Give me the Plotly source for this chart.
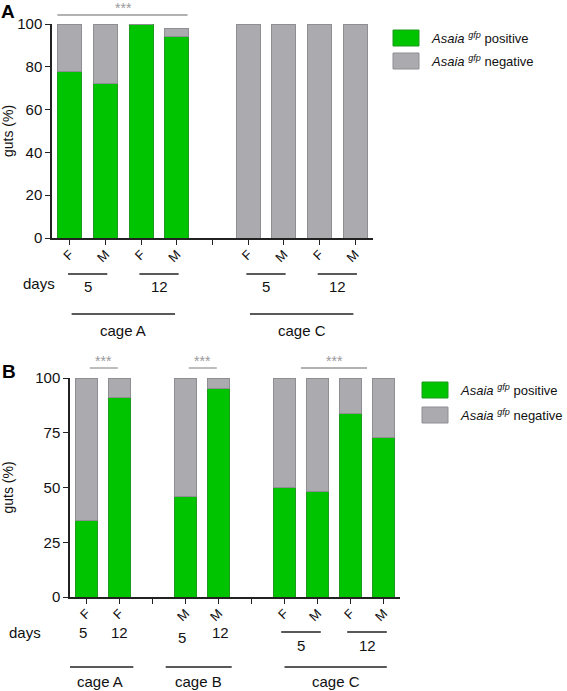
import plotly.graph_objects as go

# ---------------- data ----------------
# Panel A
a_x = [0, 1, 2, 3, 5, 6, 7, 8]
a_pos = [78, 72, 100, 94, 0, 0, 0, 0]
a_neg = [22, 28, 0, 4, 100, 100, 100, 100]
a_ticks = [0, 1, 2, 3, 4, 5, 6, 7, 8]
a_ticktext = ["F", "M", "F", "M", "", "F", "M", "F", "M"]
a_days = ["5", "12", "5", "12"]
a_cages = ["cage A", "cage C"]

# Panel B
b_x = [0, 1, 3, 4, 6, 7, 8, 9]
b_pos = [35, 91, 46, 95, 50, 48, 84, 73]
b_neg = [65, 9, 54, 5, 50, 52, 16, 27]
b_ticks = [0, 1, 2, 3, 4, 5, 6, 7, 8, 9]
b_ticktext = ["F", "F", "", "M", "M", "", "F", "M", "F", "M"]
b_cages = ["cage A", "cage B", "cage C"]

GREEN = "#00C400"
GREEN_L = "#1f9a1f"
GRAY = "#ABABAF"
GRAY_L = "#8f8f93"
AX = "#222222"
FONT = "Liberation Sans, Arial, sans-serif"

W, H = 567, 691
def px(x):
    return x / W
def py(y):
    return 1 - y / H

fig = go.Figure()
bw = 0.68
fig.add_trace(go.Bar(x=a_x, y=a_pos, width=bw, marker=dict(color=GREEN, line=dict(color=GREEN_L, width=1)),
                     xaxis="x", yaxis="y", showlegend=False))
fig.add_trace(go.Bar(x=a_x, y=a_neg, width=bw, marker=dict(color=GRAY, line=dict(color=GRAY_L, width=1)),
                     xaxis="x", yaxis="y", showlegend=False))
fig.add_trace(go.Bar(x=b_x, y=b_pos, width=bw, marker=dict(color=GREEN, line=dict(color=GREEN_L, width=1)),
                     xaxis="x2", yaxis="y2", showlegend=False))
fig.add_trace(go.Bar(x=b_x, y=b_neg, width=bw, marker=dict(color=GRAY, line=dict(color=GRAY_L, width=1)),
                     xaxis="x2", yaxis="y2", showlegend=False))

axcommon = dict(showline=True, linecolor=AX, linewidth=1.5, ticks="outside", tickcolor=AX,
                ticklen=5, tickwidth=1.2, showgrid=False, zeroline=False,
                tickfont=dict(family=FONT, size=15, color="#111"))
xtf = dict(family=FONT, size=13, color="#111")

fig.update_layout(
    width=W, height=H, margin=dict(l=0, r=0, t=0, b=0, autoexpand=False),
    paper_bgcolor="white", plot_bgcolor="white", barmode="stack",
    font=dict(family=FONT, color="#111"),
    xaxis=dict(domain=[px(52), px(373)], range=[-0.5, 8.5], anchor="y",
               tickvals=a_ticks, ticktext=a_ticktext, tickangle=-45, ticklabelstandoff=-3,
               **{**axcommon, "tickfont": xtf}),
    yaxis=dict(domain=[py(238), py(24)], range=[0, 100], anchor="x",
               tickvals=[0, 20, 40, 60, 80, 100],
               title=dict(text="guts (%)", font=dict(family=FONT, size=14), standoff=0),
               **axcommon),
    xaxis2=dict(domain=[px(70), px(400)], range=[-0.5, 9.5], anchor="y2",
                tickvals=b_ticks, ticktext=b_ticktext, tickangle=-45, ticklabelstandoff=-3,
                **{**axcommon, "tickfont": xtf}),
    yaxis2=dict(domain=[py(597), py(378)], range=[0, 100], anchor="x2",
                tickvals=[0, 25, 50, 75, 100],
                title=dict(text="guts (%)", font=dict(family=FONT, size=14), standoff=22),
                **axcommon),
)

shapes = []
ann = []

def hline(xref, x0, x1, y, color=AX, width=1.3):
    shapes.append(dict(type="line", xref=xref, yref="paper", x0=x0, x1=x1,
                       y0=py(y), y1=py(y), line=dict(color=color, width=width)))

def text(xref, x, y, s, size=15, color="#111", xanchor="center"):
    ann.append(dict(xref=xref, yref="paper", x=x, y=py(y), text=s, showarrow=False,
                    font=dict(family=FONT, size=size, color=color), xanchor=xanchor, yanchor="middle"))

# Panel labels
ann.append(dict(xref="paper", yref="paper", x=px(0), y=1, text="<b>A</b>", showarrow=False, borderpad=0,
                font=dict(family=FONT, size=19, color="#000"), xanchor="left", yanchor="top"))
ann.append(dict(xref="paper", yref="paper", x=px(0), y=py(372), text="<b>B</b>", showarrow=False,
                font=dict(family=FONT, size=19, color="#000"), xanchor="left", yanchor="middle"))

# Panel A significance
SIG = "#999999"
hline("x", -0.35, 3.3, 15, color=SIG, width=1.3)
text("x", 1.5, 8, "***", size=14, color=SIG)

# Panel A days/cage
text("paper", px(39), 284, "days", size=15)
day_groups_a = [(0, 1), (2, 3), (5, 6), (7, 8)]
for (g0, g1), d in zip(day_groups_a, a_days):
    hline("x", g0 - 0.05, g1 + 0.05, 274)
    text("x", (g0 + g1) / 2, 286, d, size=15)
cage_groups_a = [(0, 3), (5, 8)]
for (g0, g1), c in zip(cage_groups_a, a_cages):
    hline("x", g0 + 0.05, g1 - 0.05, 314)
    text("x", (g0 + g1) / 2, 330, c, size=15)

# Panel B significance
sig_b = [(0.1, 0.95), (3.1, 3.95), (6.5, 8.5)]
for (x0, x1) in sig_b:
    hline("x2", x0, x1, 368, color=SIG)
    text("x2", (x0 + x1) / 2, 361, "***", size=14, color=SIG)

# Panel B days / cage
text("paper", px(25), 632, "days", size=15)
text("x2", -0.1, 632, "5", size=15)
text("x2", 1, 632, "12", size=15)
text("x2", 2.9, 637, "5", size=15)
text("x2", 4.05, 632, "12", size=15)
for (g0, g1), d in zip([(6, 7), (8, 9)], ["5", "12"]):
    hline("x2", g0 - 0.1, g1 + 0.1, 632)
    text("x2", (g0 + g1) / 2, 645, d, size=15)
cage_groups_b = [(-0.6, 1.42), (2.4, 4.4), (6.0, 9.1)]
for (g0, g1), c in zip(cage_groups_b, b_cages):
    hline("x2", g0, g1, 667)
    text("x2", (g0 + g1) / 2, 681, c, size=15)

# Manual legends
def legend(x0, y0, dy):
    for i, (col, lc, lab) in enumerate([(GREEN, GREEN_L, "positive"), (GRAY, GRAY_L, "negative")]):
        yc = y0 + i * dy
        shapes.append(dict(type="rect", xref="paper", yref="paper", x0=px(x0), x1=px(x0 + 26),
                           y0=py(yc + 8), y1=py(yc - 8), fillcolor=col, line=dict(color=lc, width=1)))
        ann.append(dict(xref="paper", yref="paper", x=px(x0 + 36), y=py(yc), xanchor="left", yanchor="middle",
                        text="<i>Asaia</i> <i><sup>gfp</sup></i> " + lab, showarrow=False,
                        font=dict(family=FONT, size=13, color="#111")))

legend(393, 38, 23)
legend(422, 390, 25)

fig.update_layout(shapes=shapes, annotations=ann)
fig.write_html("out.html", config={"displayModeBar": False},
               post_script="document.body.style.margin='0';document.body.style.padding='0';")
